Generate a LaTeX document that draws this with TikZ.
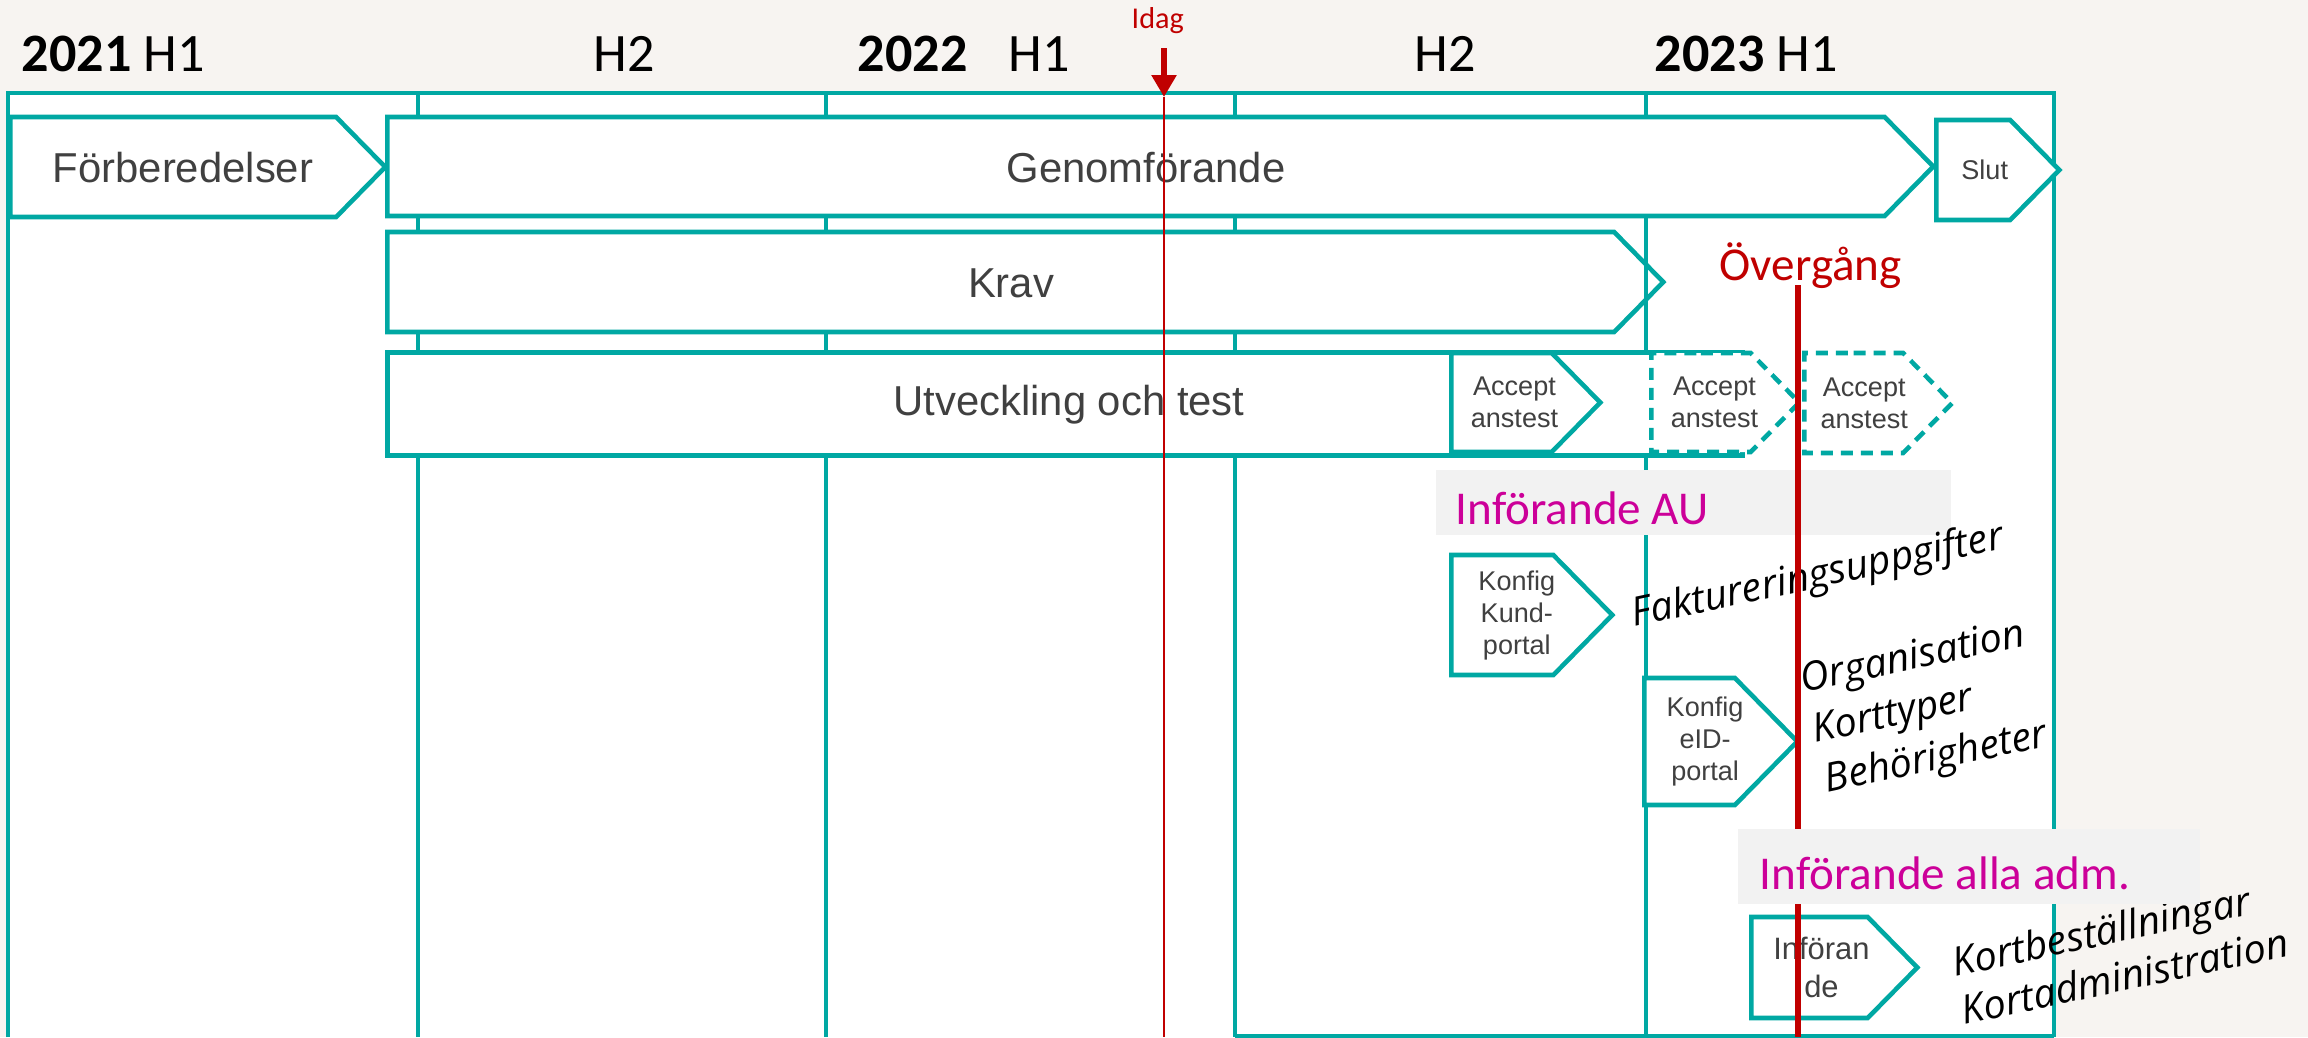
\documentclass[tikz,border=0pt]{standalone}
\usepackage{fontspec}
\setmainfont{Carlito}
\newfontfamily\boxfont{Liberation Sans}
\newfontfamily\notefont{Open Sans}
\usepackage{xcolor}
\usetikzlibrary{positioning, shapes.symbols, arrows.meta}
\definecolor{planteal}{RGB}{0,168,163}
\definecolor{dagred}{RGB}{192,0,0}
\definecolor{infmag}{RGB}{204,0,153}
\definecolor{paper}{RGB}{247,244,241}
\definecolor{labgray}{RGB}{64,64,64}
\definecolor{notegray}{RGB}{242,242,242}

\begin{document}
\begin{tikzpicture}[x=0.1mm, y=-0.1mm,
  frame/.style = {draw=planteal, line width=1pt},
  phase/.style = {shape=signal, signal to=east, signal pointer angle=91, draw=planteal, fill=white, line width=1.3pt, inner sep=0pt, anchor=west},
  planned/.style = {phase, dash pattern=on 1.2mm off 0.8mm},
  biglab/.style = {font=\boxfont\fontsize{11.9}{14}\selectfont, text=labgray, anchor=base, inner sep=0pt},
  smalllab/.style = {font=\boxfont\fontsize{7.7}{9.1}\selectfont, text=labgray, align=center, inner sep=0pt},
  head/.style = {font=\fontsize{15.4}{18}\selectfont, anchor=base west, inner sep=0pt},
  note/.style = {font=\notefont\itshape\fontsize{11.3}{13}\selectfont, anchor=base west, rotate=12, inner sep=0pt},
  stage/.style = {fill=notegray, anchor=north west, inner sep=0pt},
  stagelab/.style = {font=\fontsize{13.4}{16}\selectfont, text=infmag, anchor=base west, inner sep=0pt}]
% background and frame
\fill[paper] (0,0) rectangle (2308,1037);
\useasboundingbox (0,0) rectangle (2308,1037);
\fill[white] (8,93) rectangle (2054,1037);
\draw[frame] (8,1037) -- (8,93) -- (2054,93) -- (2054,1037);
\draw[frame] (1235,1036) -- (2054,1036);
\draw[frame] (418,93) -- (418,1037);
\draw[frame] (826,93) -- (826,1037);
\draw[frame] (1235,93) -- (1235,1037);
\draw[frame] (1646,93) -- (1646,1037);

% header
\node[head] (y21) at (21,71) {\textbf{2021} H1};
\node[head] (h21) at (593,71) {H2};
\node[head] (y22) at (857,71) {\textbf{2022}};
\node[head] (h22a) at (1008,71) {H1};
\node[head] (h22b) at (1414,71) {H2};
\node[head] (y23) at (1654,71) {\textbf{2023} H1};
\node[font=\fontsize{8.6}{10}\selectfont, text=dagred, anchor=base west, inner sep=0pt] (idag) at (1131,28) {Idag};

% phases
\node[phase, minimum width=37.5mm, minimum height=10mm] (forb) at (8,167) {};
\node[phase, minimum width=154.6mm, minimum height=9.9mm] (genom) at (385,166.5) {};
\node[phase, minimum width=12.3mm, minimum height=10mm] (slut) at (1934,170) {};
\node[phase, minimum width=127.6mm, minimum height=10mm] (krav) at (385,282) {};
\draw[frame] (1646,216) -- (1646,350);
\node[draw=planteal, fill=white, line width=1.3pt, minimum width=135.5mm, minimum height=10.3mm, anchor=north west, inner sep=0pt] (utv) at (385,350) {};
\node[phase, minimum width=14.9mm, minimum height=9.9mm] (acc1) at (1449,402.5) {};
\node[planned, minimum width=14.8mm, minimum height=9.9mm] (acc2) at (1649,402.5) {};
\node[planned, minimum width=14.8mm, minimum height=10mm] (acc3) at (1802,403) {};
\node[phase, minimum width=16.1mm, minimum height=12mm] (kund) at (1449,615) {};
\node[phase, minimum width=15.3mm, minimum height=12.7mm] (eid) at (1642,741.5) {};
\node[phase, minimum width=16.6mm, minimum height=10.1mm] (inf) at (1749,967.5) {};

\node[biglab] (forbtxt) at (183,182) {Förberedelser};
\node[biglab] (genomtxt) at (1146,182) {Genomförande};
\node[biglab] (kravtxt) at (1011,297) {Krav};
\node[biglab] (utvtxt) at (1069,415) {Utveckling och test};
\node[smalllab] (sluttxt) at ([xshift=1.15mm]slut.center) {Slut};
\node[smalllab] (acc1txt) at ([xshift=1.3mm]acc1.center) {Accept\\anstest};
\node[smalllab] (acc2txt) at ([xshift=1.35mm]acc2.center) {Accept\\anstest};
\node[smalllab] (acc3txt) at ([xshift=1.05mm]acc3.center) {Accept\\anstest};
\node[smalllab] (kundtxt) at ([xshift=1.45mm]kund.center) {Konfig\\Kund-\\portal};
\node[smalllab] (eidtxt) at ([xshift=1.55mm]eid.center) {Konfig\\eID-\\portal};
\node[smalllab, font=\boxfont\fontsize{8.8}{10.8}\selectfont] (inftxt) at ([xshift=1.2mm]inf.center) {Införan\\de};

% introduction steps
\node[stage, minimum width=51.5mm, minimum height=6.5mm] (au) at (1435,469) {};
\node[stagelab] (autxt) at (1455,524) {Införande AU};
\node[note] (fakt) at (1634,627) {Faktureringsuppgifter};
\node[note] (org) at (1803,693) {Organisation};
\node[note] (typ) at (1815,743) {Korttyper};
\node[note] (beh) at (1827,793) {Behörigheter};
\node[note] (best) at (1955,977) {Kortbeställningar};
\node[note] (adm) at (1964,1025) {Kortadministration};

% today and transition
\node[font=\fontsize{13.4}{16}\selectfont, text=dagred, anchor=base west, inner sep=0pt] (overg) at (1719,280) {Övergång};
\coordinate (idagstart) at (1164,48);
\coordinate (idagtip) at (1164,97);
\coordinate (idagend) at (1164,1037);
\coordinate (overgtop) at (1798,285);
\coordinate (overgend) at (1798,1037);
\draw[dagred, line width=1.7pt, -{Triangle[width=2.4mm,length=2.2mm]}] (idagstart) -- (idagtip);
\draw[dagred, line width=0.6pt] (idagtip) -- (idagend);
\draw[dagred, line width=1.45pt] (overgtop) -- (overgend);
\node[stage, minimum width=46.2mm, minimum height=7.5mm] (alla) at (1737,828) {};
\node[stagelab] (allatxt) at (1759,889) {Införande alla adm.};
\end{tikzpicture}
\end{document}
